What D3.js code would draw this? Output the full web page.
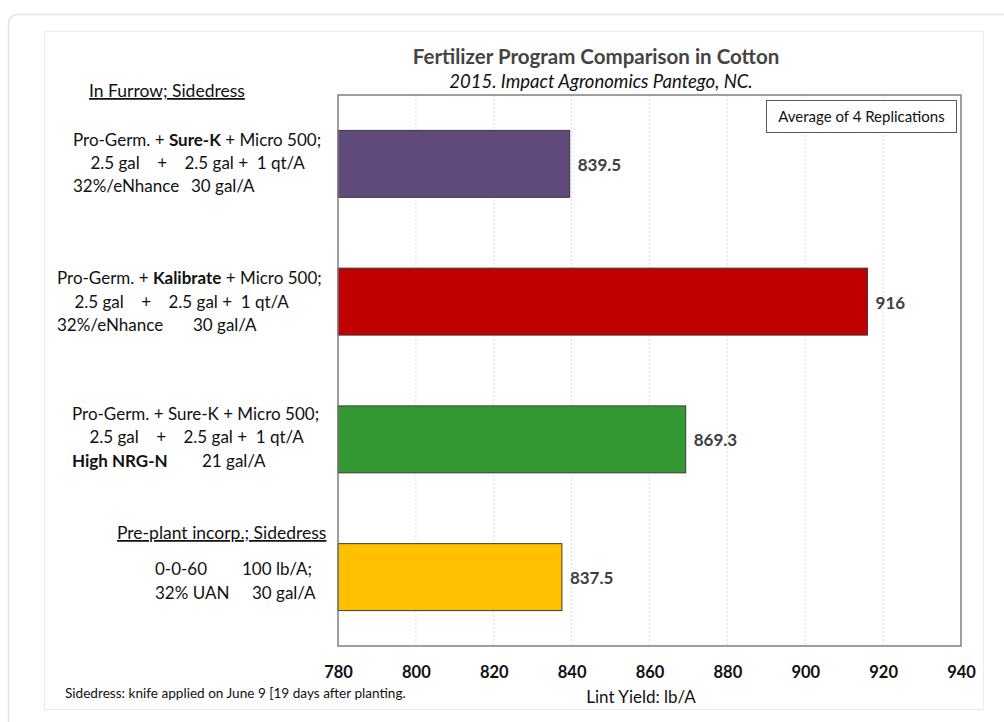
<!DOCTYPE html>
<html>
<head>
<meta charset="utf-8">
<script src="https://cdn.jsdelivr.net/npm/d3@7"></script>
<style>
  html, body { margin: 0; padding: 0; background: #fff; }
  svg text { font-family: Lato, "Open Sans", sans-serif; white-space: pre; }
</style>
</head>
<body>
<svg id="chart" width="1004" height="722"></svg>
<script>
// ---------------- data ----------------
const treatments = ["Sure-K + eNhance", "Kalibrate + eNhance", "Sure-K + High NRG-N", "0-0-60 + UAN"];
const yieldValues = [839.5, 916, 869.3, 837.5];
const valueLabels = ["839.5", "916", "869.3", "837.5"];
const barColors = ["#604a7b", "#c00000", "#339933", "#ffc000"];
const xTicks = [780, 800, 820, 840, 860, 880, 900, 920, 940];
const xDomain = [780, 940];

// label lines per treatment: segments [text, bold]; "\t" jumps to the line's tab stop
const labelLines = [
  [ [["Pro-Germ. + ", false], ["Sure-K", true], [" + Micro 500;", false]],
    [["    2.5 gal    +    2.5 gal +  1 qt/A", false]],
    [["32%/eNhance", false], ["\t30 gal/A", false]] ],
  [ [["Pro-Germ. + ", false], ["Kalibrate", true], [" + Micro 500;", false]],
    [["    2.5 gal    +    2.5 gal +  1 qt/A", false]],
    [["32%/eNhance", false], ["\t30 gal/A", false]] ],
  [ [["Pro-Germ. + Sure-K + Micro 500;", false]],
    [["    2.5 gal    +    2.5 gal +  1 qt/A", false]],
    [["High NRG-N", true], ["\t21 gal/A", false]] ],
  [ [["0-0-60", false], ["\t100 lb/A;", false]],
    [["32% UAN", false], ["\t30 gal/A", false]] ]
];
const groupHeadings = ["In Furrow; Sidedress", "Pre-plant incorp.; Sidedress"];
const titleText = "Fertilizer Program Comparison in Cotton";
const subtitleText = "2015. Impact Agronomics Pantego, NC.";
const legendText = "Average of 4 Replications";
const axisTitle = "Lint Yield: lb/A";
const footnote = "Sidedress: knife applied on June 9 [19 days after planting.";

// ---------------- layout ----------------
const svg = d3.select("#chart");
const plot = { left: 338, right: 961, top: 95, bottom: 646 };
const labelFont = 17;
const headingFont = 17.5;

svg.append("rect").attr("width", 1004).attr("height", 722).attr("fill", "#fff");
// outer card
svg.append("rect").attr("x", 8.5).attr("y", 14.5).attr("width", 1030).attr("height", 740)
  .attr("rx", 9).attr("fill", "#fff").attr("stroke", "#e2e2e2").attr("stroke-width", 1.5);
// chart area frame
svg.append("rect").attr("x", 44.5).attr("y", 31.5).attr("width", 939).attr("height", 678)
  .attr("fill", "#fff").attr("stroke", "#ebebeb");

const x = d3.scaleLinear().domain(xDomain).range([plot.left, plot.right]);
const y = d3.scaleBand().domain(treatments).range([plot.top, plot.bottom])
  .paddingInner(0.514).paddingOuter(0.257);

// gridlines
svg.append("g").selectAll("line").data(xTicks.slice(1, -1)).join("line")
  .attr("x1", d => x(d)).attr("x2", d => x(d))
  .attr("y1", plot.top).attr("y2", plot.bottom)
  .attr("stroke", "#dcdcdc").attr("stroke-dasharray", "2,2").attr("stroke-width", 1);

// bars
svg.append("g").selectAll("rect").data(treatments).join("rect")
  .attr("x", x(xDomain[0]))
  .attr("y", d => y(d))
  .attr("width", (d, i) => x(yieldValues[i]) - x(xDomain[0]))
  .attr("height", y.bandwidth())
  .attr("fill", (d, i) => barColors[i])
  .attr("stroke", "#3a3a3a").attr("stroke-width", 1);

// plot frame
svg.append("rect").attr("x", plot.left).attr("y", plot.top)
  .attr("width", plot.right - plot.left).attr("height", plot.bottom - plot.top)
  .attr("fill", "none").attr("stroke", "#7f7f7f").attr("stroke-width", 1.5);

// value labels
svg.append("g").selectAll("text").data(treatments).join("text")
  .attr("x", (d, i) => x(yieldValues[i]) + 8)
  .attr("y", d => y(d) + y.bandwidth() / 2 + 7)
  .attr("font-size", 17).attr("font-weight", "bold").attr("fill", "#404040")
  .text((d, i) => valueLabels[i]);

// x axis tick labels
const xAxis = d3.axisBottom(x).tickValues(xTicks).tickSize(0).tickPadding(0);
const gAxis = svg.append("g").attr("transform", `translate(0,${plot.bottom + 20})`).call(xAxis);
gAxis.select(".domain").remove();
gAxis.selectAll("text").attr("font-family", "Lato, sans-serif").attr("font-size", 16.5)
  .attr("font-weight", "bold").attr("fill", "#111").attr("dy", "0.71em");

// axis title
svg.append("text").attr("x", 641).attr("y", 703).attr("text-anchor", "middle")
  .attr("font-size", 17).attr("fill", "#111").text(axisTitle);
// footnote
svg.append("text").attr("x", 65).attr("y", 698).attr("font-size", 13.6)
  .attr("fill", "#111").text(footnote);

// title
svg.append("text").attr("x", 596).attr("y", 64).attr("text-anchor", "middle")
  .attr("font-size", 20.5).attr("font-weight", "bold").attr("fill", "#444").text(titleText);
svg.append("text").attr("x", 601).attr("y", 88).attr("text-anchor", "middle")
  .attr("font-size", 18.5).attr("font-style", "italic").attr("fill", "#111").text(subtitleText);

// legend box
svg.append("rect").attr("x", 766.5).attr("y", 100.5).attr("width", 190).attr("height", 32)
  .attr("fill", "#fff").attr("stroke", "#595959").attr("stroke-width", 1);
svg.append("text").attr("x", 861.5).attr("y", 122).attr("text-anchor", "middle")
  .attr("font-size", 15).attr("fill", "#111").text(legendText);

// category labels
const blockX = [73, 57, 72, 155];
const blockShift = [0, 1, -1, 5];
const tabStops = [[0, 0, 191], [0, 0, 193], [0, 0, 202], [242, 252]];
const lineGap = 23.3;
labelLines.forEach((lines, i) => {
  const cy = y(treatments[i]) + y.bandwidth() / 2;
  const n = lines.length;
  lines.forEach((segs, j) => {
    const t = svg.append("text")
      .attr("x", blockX[i])
      .attr("y", cy + (j - (n - 1) / 2) * lineGap + 5 + blockShift[i])
      .attr("font-size", labelFont).attr("fill", "#111");
    segs.forEach(([txt, b]) => {
      const sp = t.append("tspan").attr("font-weight", b ? "bold" : "normal");
      if (txt.startsWith("\t")) {
        sp.attr("x", tabStops[i][j]).text(txt.slice(1));
      } else {
        sp.text(txt);
      }
    });
  });
});

// group headings (underlined)
const headingPos = [
  { x: 89, y: 97 },
  { x: 117, y: 539 }
];
groupHeadings.forEach((h, i) => {
  svg.append("text").attr("x", headingPos[i].x).attr("y", headingPos[i].y)
    .attr("font-size", headingFont).attr("fill", "#111")
    .attr("text-decoration", "underline").text(h);
});
</script>
</body>
</html>
